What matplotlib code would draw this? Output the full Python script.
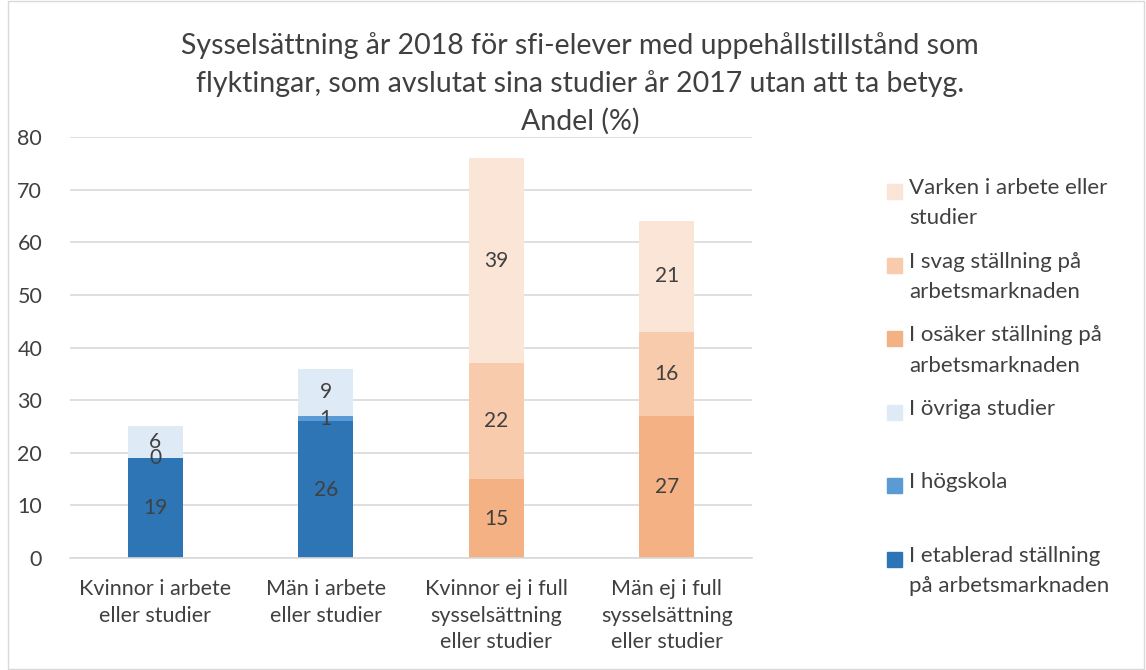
import matplotlib.pyplot as plt
from matplotlib.patches import Rectangle
import numpy as np

# data
categories = ['Kvinnor i arbete\neller studier', 'Män i arbete\neller studier',
              'Kvinnor ej i full\nsysselsättning\neller studier', 'Män ej i full\nsysselsättning\neller studier']
series = ['I etablerad ställning\npå arbetsmarknaden', 'I högskola', 'I övriga studier',
          'I osäker ställning på\narbetsmarknaden', 'I svag ställning på\narbetsmarknaden',
          'Varken i arbete eller\nstudier']
etablerad = [19, 26, np.nan, np.nan]
hogskola = [0, 1, np.nan, np.nan]
ovriga = [6, 9, np.nan, np.nan]
osaker = [np.nan, np.nan, 15, 27]
svag = [np.nan, np.nan, 22, 16]
varken = [np.nan, np.nan, 39, 21]
values = [etablerad, hogskola, ovriga, osaker, svag, varken]
colors = ['#2E75B6', '#5B9BD5', '#DEEBF7', '#F4B183', '#F8CBAD', '#FBE5D6']

txt = '#404040'
plt.rcParams['font.family'] = ['Lato', 'DejaVu Sans']

fig = plt.figure(figsize=(11.46, 6.70), dpi=100)
ax = fig.add_axes([70/1146, 1-558/670, (752-70)/1146, (558-137)/670])

x = np.arange(len(categories))
bottom = np.zeros(len(categories))
for vals, col in zip(values, colors):
    v = np.nan_to_num(np.array(vals, dtype=float))
    ax.bar(x, v, 0.32, bottom=bottom, color=col, zorder=2)
    for i, val in enumerate(vals):
        if not np.isnan(val):
            ax.text(x[i], bottom[i] + val / 2, '%d' % val, ha='center', va='center',
                    fontsize=15, color=txt, zorder=3)
    bottom += v

ax.set_xlim(-0.5, 3.5)
ax.set_ylim(0, 80)
ax.set_yticks(range(0, 81, 10))
ax.yaxis.grid(True, color='#D9D9D9', linewidth=1.2, zorder=0)
ax.set_axisbelow(True)
for s in ['left', 'right', 'top']:
    ax.spines[s].set_visible(False)
ax.spines['bottom'].set_color('#D9D9D9')
ax.spines['bottom'].set_linewidth(1.2)
ax.tick_params(length=0, colors=txt)
ax.tick_params(axis='y', labelsize=15.5, pad=20)
ax.set_xticks(x)
ax.set_xticklabels(categories, fontsize=15.5, linespacing=1.42)
ax.tick_params(axis='x', pad=15)

fig.text(0.506, 0.952, 'Sysselsättning år 2018 för sfi-elever med uppehållstillstånd som\n'
         'flyktingar, som avslutat sina studier år 2017 utan att ta betyg.\nAndel (%)',
         ha='center', va='top', fontsize=20.5, color=txt, linespacing=1.5)

# legend, top entry first
for k, (name, col) in enumerate(zip(series[::-1], colors[::-1])):
    yc = 191 + k * 73.6
    fig.patches.append(Rectangle((887/1146, 1-(yc+8)/670), 15/1146, 15/670,
                                 transform=fig.transFigure, color=col))
    fig.text(909/1146, 1-(yc-13)/670, name, ha='left', va='top', fontsize=16,
             color=txt, linespacing=1.65)

fig.patches.append(Rectangle((8/1146, 0.002), 1-10/1146, 0.996, transform=fig.transFigure,
                             fill=False, edgecolor='#D9D9D9', linewidth=1))

fig.savefig('out.png', dpi=100)
